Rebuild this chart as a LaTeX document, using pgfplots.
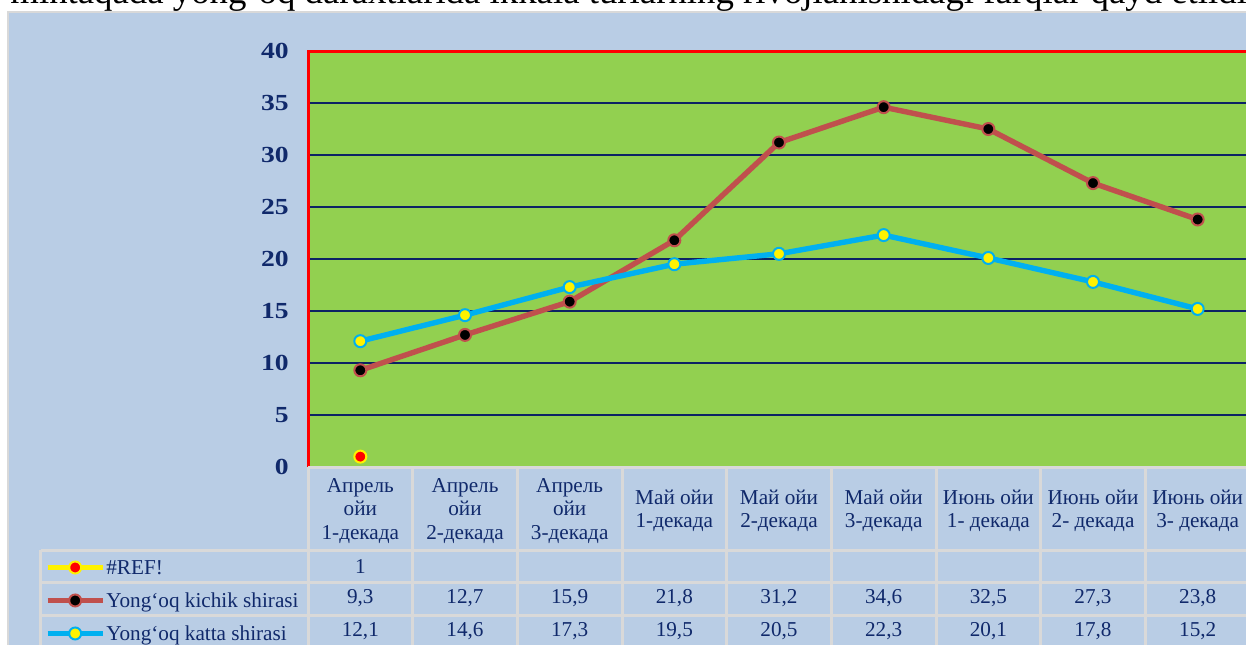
\documentclass[border=0pt]{standalone}
\usepackage{fontspec}
\setmainfont{Liberation Serif}
\usepackage{pgfplots}
\pgfplotsset{compat=1.18}
\definecolor{bgblue}{HTML}{B9CDE5}
\definecolor{plotgreen}{HTML}{92D050}
\definecolor{gridnavy}{HTML}{0C2364}
\definecolor{txtnavy}{HTML}{10296B}
\definecolor{brick}{HTML}{C0504D}
\definecolor{cyanx}{HTML}{00B0F0}
\definecolor{tgray}{HTML}{D9D9D9}
\tikzset{pixel/.style={x=0.5pt,y=-0.5pt,xshift=-154pt,yshift=233.5pt}}
\newcommand\tfont{\fontsize{10.6}{11.6}\selectfont}
\begin{document}
\begin{tikzpicture}
\useasboundingbox (-154pt,-88.5pt) rectangle (469pt,233.5pt);
\clip (-154pt,-88.5pt) rectangle (469pt,233.5pt);
\begin{scope}[pixel]
 \fill[white] (0,0) rectangle (1246,644);
 \fill[bgblue] (8,11) rectangle (1260,660);
 \draw[tgray, line width=1pt] (8.5,660) -- (8.5,11.5) -- (1260,11.5);
 \node[anchor=base west, font=\fontsize{18.4}{22}\selectfont, inner sep=0pt] at (10,3) {mintaqada yong‘oq daraxtlarida ikkala turlarning rivojlanishidagi farqlar qayd etildi};
\end{scope}
\begin{axis}[
 scale only axis, width=471pt, height=208pt,
 at={(0,0)}, anchor=south west,
 xmin=-0.5, xmax=8.5, ymin=0, ymax=40,
 axis background/.style={fill=plotgreen},
 axis line style={draw=none},
 xtick=\empty,
 ytick={0,5,...,40},
 ymajorgrids, grid style={gridnavy, line width=1.2pt},
 major tick length=0pt,
 /pgf/number format/assume math mode=true,
 yticklabel style={font=\bfseries\fontsize{11.5}{13}\selectfont, text=txtnavy, xscale=1.2, xshift=-4.5pt},
 clip=false,
 legend cell align=left,
 legend image code/.code={\draw[#1, mark repeat=2, mark phase=2] plot coordinates {(0pt,3pt) (13.75pt,3pt) (27.5pt,3pt)};},
 legend style={at={(rel axis cs:-0.2792,-0.2163)}, anchor=north west, draw=none, fill=none,
   inner sep=0pt, outer sep=0pt, row sep=0pt, column sep=0.5pt,
   font=\tfont, text=txtnavy,
   nodes={inner sep=0pt, text height=9pt, text depth=7.5pt}},
]
\addplot[draw=yellow, line width=2.7pt, mark=*, mark size=3pt, mark options={fill=red, draw=yellow, line width=1pt}]
 coordinates {(0,1)};
\addlegendentry{\#REF!}
\addplot[draw=brick, line width=2.7pt, mark=*, mark size=3pt, mark options={fill=black, draw=brick, line width=1pt}]
 coordinates {(0,9.3) (1,12.7) (2,15.9) (3,21.8) (4,31.2) (5,34.6) (6,32.5) (7,27.3) (8,23.8)};
\addlegendentry{Yong‘oq kichik shirasi}
\addplot[draw=cyanx, line width=2.7pt, mark=*, mark size=3pt, mark options={fill=yellow, draw=cyanx, line width=1pt}]
 coordinates {(0,12.1) (1,14.6) (2,17.3) (3,19.5) (4,20.5) (5,22.3) (6,20.1) (7,17.8) (8,15.2)};
\addlegendentry{Yong‘oq katta shirasi}
\end{axis}
\begin{scope}[pixel]
 \draw[red, line width=1.5pt] (308,467) -- (308,51) -- (1260,51);
 \draw[tgray, line width=1.5pt] (308,467) -- (1260,467);
 \foreach \y in {550,582,615} \draw[tgray, line width=1.5pt] (41,\y) -- (1260,\y);
 \draw[tgray, line width=1.5pt] (41,550) -- (41,660);
 \foreach \i in {0,...,9} \draw[tgray,line width=1.5pt] ({308+\i*104.67},467) -- ({308+\i*104.67},660);
 \foreach \i/\t in {0/{Апрель\\ойи\\1-декада},1/{Апрель\\ойи\\2-декада},2/{Апрель\\ойи\\3-декада},
   3/{Май ойи\\1-декада},4/{Май ойи\\2-декада},5/{Май ойи\\3-декада},
   6/{Июнь ойи\\1- декада},7/{Июнь ойи\\2- декада},8/{Июнь ойи\\3- декада}}
   \node[align=center, font=\tfont, text=txtnavy, inner sep=0pt] at ({360.33+\i*104.67},511) {\t};
 \node[font=\tfont, text=txtnavy] at (360.33,566) {1};
 \foreach \i/\v in {0/{9,3},1/{12,7},2/{15,9},3/{21,8},4/{31,2},5/{34,6},6/{32,5},7/{27,3},8/{23,8}}
   \node[font=\tfont, text=txtnavy] at ({360.33+\i*104.67},598) {\v};
 \foreach \i/\v in {0/{12,1},1/{14,6},2/{17,3},3/{19,5},4/{20,5},5/{22,3},6/{20,1},7/{17,8},8/{15,2}}
   \node[font=\tfont, text=txtnavy] at ({360.33+\i*104.67},631) {\v};
\end{scope}
\end{tikzpicture}
\end{document}
